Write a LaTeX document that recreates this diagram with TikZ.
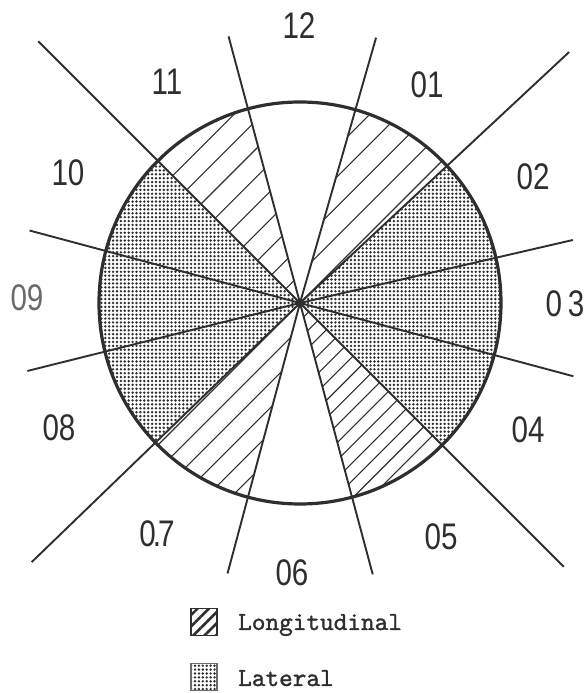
\documentclass[tikz,border=0pt]{standalone}
\usepackage{fontspec}
\newfontfamily\sectorfont[FakeStretch=0.8]{Liberation Sans}
\newfontfamily\legendfont{lmmono10-regular}[Extension=.otf, FakeBold=1.2]
\usetikzlibrary{patterns.meta}
\definecolor{inkGray}{HTML}{2E2E2E}
\definecolor{fadedInk}{HTML}{6A6A6A}
\tikzset{
  ray/.style={draw=inkGray, line width=1.9pt},
  rim/.style={draw=inkGray, line width=3.2pt},
  hatchline/.style={draw=inkGray, line width=1.1pt},
  dotfill/.style={pattern={Dots[radius=1.35pt, distance=3.9pt]}, pattern color=inkGray},
  sector/.style={font=\sectorfont\fontsize{37}{37}\selectfont, text=inkGray, inner sep=0pt},
  legendtext/.style={font=\legendfont\fontsize{26}{26}\selectfont, text=inkGray, anchor=base west, inner sep=0pt},
  keybox/.style={draw=inkGray, line width=1.6pt, minimum width=26pt, minimum height=27pt, inner sep=0pt},
}

\begin{document}
\begin{tikzpicture}[x=1pt, y=1pt]
\useasboundingbox (0,0) rectangle (587,693);
\def\rad{201}

\begin{scope}[shift={(300,390)}]
  \coordinate (O) at (0,0);
  % lateral zones
  \fill[dotfill] (O) -- (-45:\rad) arc[start angle=-45, end angle=43, radius=\rad] -- cycle;
  \fill[dotfill] (O) -- (135:\rad) arc[start angle=135, end angle=224, radius=\rad] -- cycle;
  % longitudinal zones
  \foreach \a/\b/\gap in {105/135/20, 43/74/21, 285/315/12.5, 224/255/17.7}{
    \begin{scope}
      \clip (O) -- (\a:\rad) arc[start angle=\a, end angle=\b, radius=\rad] -- cycle;
      \begin{scope}[rotate=45]
        \foreach \k in {-20,...,20}
          \draw[hatchline] (-220,\k*\gap) -- (220,\k*\gap);
      \end{scope}
    \end{scope}
  }
  % sector borders
  \foreach \ang/\len in {13/280, 43/368, 74/276, 105/276, 135/370, 165/280,
                         194/281, 224/373, 255/280, 285/281, 315/373, 345/283}
    \draw[ray] (O) -- (\ang:\len);
  \draw[rim] (O) circle[radius=\rad];
\end{scope}

% clock positions
\node[sector] (s12) at (299,667) {12};
\node[sector] (s01) at (427,608) {01};
\node[sector] (s02) at (533,516) {02};
\node[sector] (s03) at (565,389) {0\kern6pt3};
\node[sector] (s04) at (528,263) {04};
\node[sector] (s05) at (441,156) {05};
\node[sector] (s06) at (292,120) {06};
\node[sector] (s07) at (157,159) {0\kern-3pt.\kern-3pt7};
\node[sector] (s08) at (59,265) {08};
\node[sector, text=fadedInk] (s09) at (27,395) {09};
\node[sector] (s10) at (68,520) {10};
\node[sector] (s11) at (167,611) {11};

% key
\node[keybox, pattern={Lines[angle=45, distance=8pt, line width=2.6pt]}, pattern color=inkGray] (keyLong) at (204,71) {};
\node[keybox, draw=fadedInk, dotfill] (keyLat) at (204,16) {};
\node[legendtext] (txtLong) at (238,63) {Longitudinal};
\node[legendtext] (txtLat) at (238,7) {Lateral};
\end{tikzpicture}
\end{document}
